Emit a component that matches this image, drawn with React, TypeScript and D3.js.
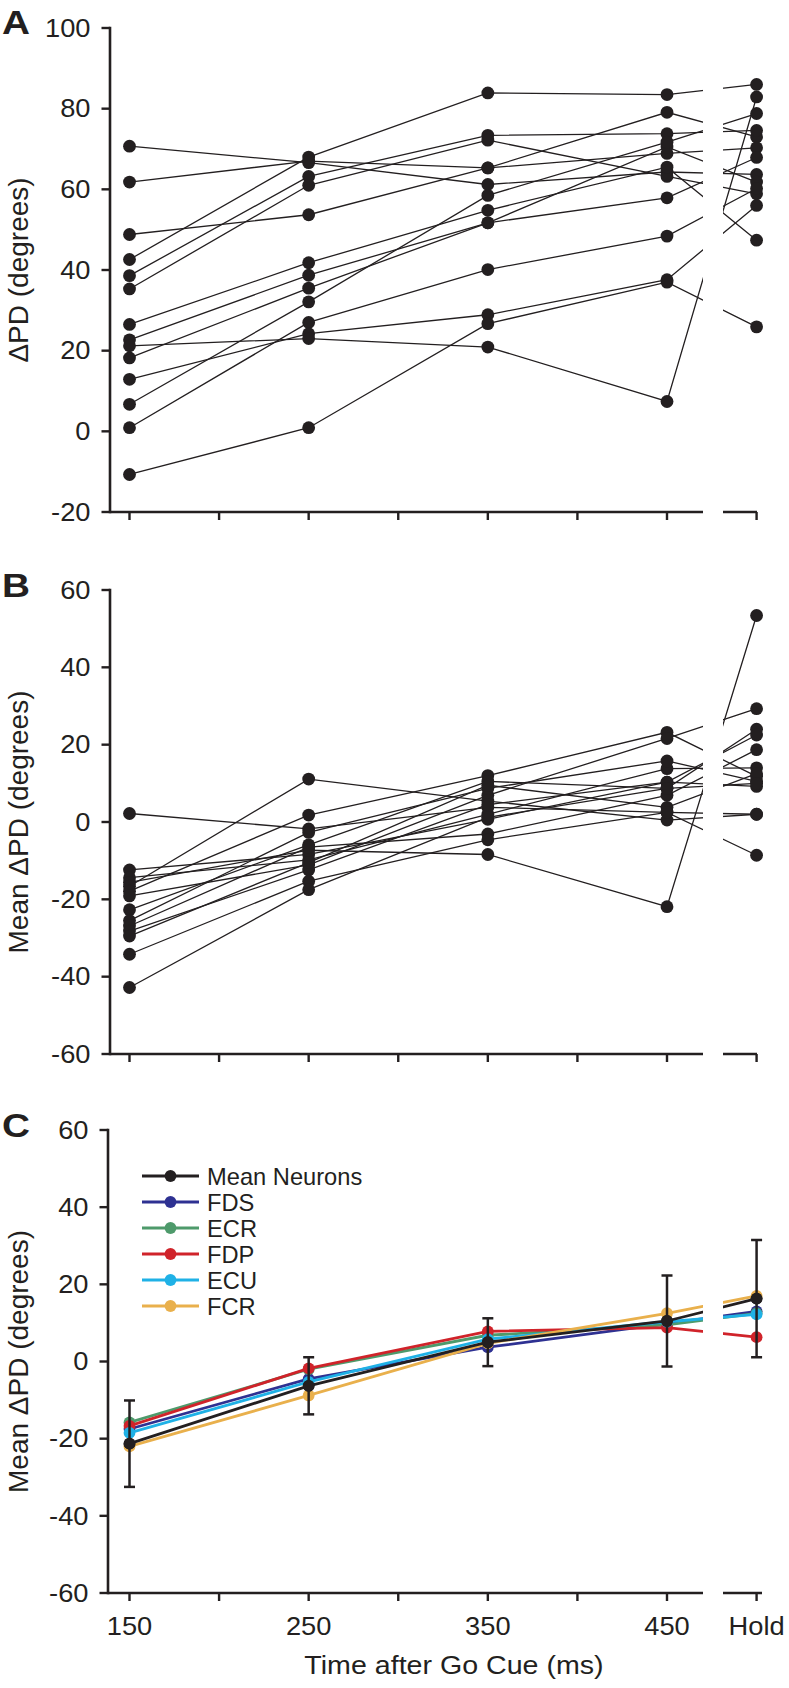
import React from "react";
import * as d3 from "d3";

// ---------- data ----------
const timeLabels = ["150", "250", "350", "450", "Hold"];
const timeValues = [150, 250, 350, 450, 500];
const tickValues = [150, 200, 250, 300, 350, 400, 450, 500];

const yTicksA = [-20, 0, 20, 40, 60, 80, 100];
const yTicksBC = [-60, -40, -20, 0, 20, 40, 60];

// Panel A: ΔPD per neuron at 150, 250, 350, 450 ms and Hold
const neuronsA: number[][] = [
  [42.6, 68.0, 83.9, 83.5, 86.0],
  [70.7, 66.6, 61.2, 64.3, 63.7],
  [61.8, 67.0, 65.3, 79.1, 73.0],
  [38.6, 63.2, 73.4, 73.8, 74.6],
  [35.3, 61.0, 72.2, 63.2, 58.9],
  [48.8, 53.7, 65.3, 68.9, 70.3],
  [26.5, 41.8, 54.8, 65.5, 47.4],
  [22.7, 38.7, 51.7, 70.5, 61.8],
  [18.2, 35.5, 51.7, 57.9, 67.9],
  [6.7, 32.1, 58.5, 71.7, 78.8],
  [0.9, 27.0, 40.1, 48.4, 60.2],
  [12.9, 24.2, 28.9, 37.6, 56.0],
  [21.2, 23.0, 20.9, 7.4, 82.9],
  [-10.7, 0.9, 26.7, 37.0, 25.9],
];

// Panel B: mean ΔPD
const neuronsB: number[][] = [
  [2.2, -1.8, 3.8, 2.5, 2.0],
  [-12.4, -8.4, 0.7, 10.3, 9.2],
  [-14.4, -9.8, 2.0, 13.8, 14.0],
  [-15.6, -7.3, -8.4, -21.9, 53.4],
  [-16.6, 11.1, 5.4, 0.5, 2.0],
  [-17.9, 1.8, 12.0, 23.2, 11.8],
  [-19.1, -11.1, 6.9, 21.6, 29.3],
  [-22.7, -5.9, 10.5, 8.7, 24.0],
  [-25.5, -2.7, 8.7, 15.8, 10.5],
  [-26.9, -6.5, -3.1, 6.9, 18.7],
  [-28.2, -12.4, 4.5, 10.3, 22.5],
  [-29.5, -10.5, 9.5, 3.8, 12.5],
  [-34.2, -15.3, -4.6, 2.5, -8.6],
  [-42.8, -17.5, 1.2, 8.7, 10.0],
];

// Panel C
const seriesNames = ["Mean Neurons", "FDS", "ECR", "FDP", "ECU", "FCR"];
const seriesColors = ["#231f20", "#2e3192", "#4e9a6b", "#d0232a", "#1fb1e6", "#e9b04c"];
const meanNeurons = [-21.3, -6.3, 5.0, 10.5, 16.3];
const meanNeuronsErr = [11.2, 7.4, 6.2, 11.8, 15.2];
const fds = [-17.5, -4.5, 3.7, 9.8, 13.0];
const ecr = [-15.8, -2.0, 6.8, 9.5, 12.5];
const fdp = [-16.7, -1.8, 7.8, 8.8, 6.3];
const ecu = [-18.5, -5.3, 5.8, 10.3, 12.2];
const fcr = [-22.0, -8.8, 4.7, 12.5, 17.0];
const muscleSeries = [fds, ecr, fdp, ecu, fcr];

// ---------- layout ----------
const W = 789;
const H = 1688;
const INK = "#231f20";
const FONT = "'Liberation Sans', Arial, Helvetica, sans-serif";
const TICK_SIZE = 25.5;
const TICK_SX = 1.07;

const x = d3.scaleLinear().domain([150, 450]).range([129.5, 667]);
const BREAK_L = 703;
const BREAK_R = 723;

type PanelProps = {
  id: string;
  letter: string;
  letterY: number;
  yDomain: [number, number];
  yRange: [number, number];
  yTicks: number[];
  axisX: number;
  axisEnd: number;
  title: string;
  children: (y: d3.ScaleLinear<number, number>) => React.ReactNode;
};

function HText(props: {
  x: number;
  y: number;
  size?: number;
  anchor?: string;
  sx?: number;
  weight?: string | number;
  children: React.ReactNode;
}) {
  const { size = TICK_SIZE, anchor = "middle", sx = TICK_SX, weight = "normal" } = props;
  return (
    <text
      transform={`translate(${props.x},${props.y}) scale(${sx},1)`}
      fontSize={size}
      textAnchor={anchor as any}
      fontWeight={weight}
      fill={INK}
      fontFamily={FONT}
    >
      {props.children}
    </text>
  );
}

function Panel(p: PanelProps) {
  const y = d3.scaleLinear().domain(p.yDomain).range(p.yRange);
  const y0 = p.yRange[0];
  const y1 = p.yRange[1];
  return (
    <g>
      <defs>
        <clipPath id={`clip-${p.id}`}>
          <rect x={0} y={0} width={BREAK_L} height={H} />
          <rect x={BREAK_R} y={0} width={W - BREAK_R} height={H} />
        </clipPath>
      </defs>
      {/* panel letter */}
      <HText x={2} y={p.letterY} size={34} anchor="start" sx={1.14} weight="bold">
        {p.letter}
      </HText>
      {/* y axis */}
      <line x1={p.axisX} x2={p.axisX} y1={y1} y2={y0} stroke={INK} strokeWidth={2.6} strokeLinecap="square" />
      {p.yTicks.map((t) => (
        <g key={t}>
          <line x1={p.axisX - 8.5} x2={p.axisX} y1={y(t)} y2={y(t)} stroke={INK} strokeWidth={2.4} />
          <HText x={p.axisX - 19.5} y={y(t) + 8.8} anchor="end">
            {String(t)}
          </HText>
        </g>
      ))}
      {/* y title */}
      <text
        transform={`translate(28,${(y0 + y1) / 2}) rotate(-90)`}
        fontSize={28}
        textAnchor="middle"
        fill={INK}
        fontFamily={FONT}
      >
        {p.title}
      </text>
      {/* x axis (broken) */}
      <line x1={p.axisX} x2={BREAK_L} y1={y0} y2={y0} stroke={INK} strokeWidth={2.6} />
      <line x1={BREAK_R} x2={p.axisEnd} y1={y0} y2={y0} stroke={INK} strokeWidth={2.6} />
      {tickValues.map((t) => (
        <line key={t} x1={x(t)} x2={x(t)} y1={y0} y2={y0 + 8} stroke={INK} strokeWidth={2.4} />
      ))}
      <g clipPath={`url(#clip-${p.id})`}>{p.children(y)}</g>
    </g>
  );
}

function NeuronLines({ data, y }: { data: number[][]; y: d3.ScaleLinear<number, number> }) {
  const line = d3
    .line<number>()
    .x((_, i) => x(timeValues[i]))
    .y((d) => y(d));
  return (
    <g>
      {data.map((row, k) => (
        <path key={`l${k}`} d={line(row) || ""} fill="none" stroke={INK} strokeWidth={1.3} />
      ))}
      {data.map((row, k) =>
        row.map((v, i) => <circle key={`c${k}-${i}`} cx={x(timeValues[i])} cy={y(v)} r={6.4} fill={INK} />)
      )}
    </g>
  );
}

function MuscleLines({ y }: { y: d3.ScaleLinear<number, number> }) {
  const line = d3
    .line<number>()
    .x((_, i) => x(timeValues[i]))
    .y((d) => y(d));
  const all = [...muscleSeries.map((s, i) => ({ s, c: seriesColors[i + 1] })), { s: meanNeurons, c: seriesColors[0] }];
  return (
    <g>
      {all.map(({ s, c }, k) => (
        <g key={k}>
          <path d={line(s) || ""} fill="none" stroke={c} strokeWidth={2.8} />
          {s.map((v, i) => (
            <circle key={i} cx={x(timeValues[i])} cy={y(v)} r={5.9} fill={c} />
          ))}
        </g>
      ))}
      {meanNeurons.map((m, i) => {
        const cx = x(timeValues[i]);
        const top = y(m + meanNeuronsErr[i]);
        const bot = y(m - meanNeuronsErr[i]);
        return (
          <g key={`e${i}`} stroke={INK} strokeWidth={2.5}>
            <line x1={cx} x2={cx} y1={top} y2={bot} />
            <line x1={cx - 5.5} x2={cx + 5.5} y1={top} y2={top} />
            <line x1={cx - 5.5} x2={cx + 5.5} y1={bot} y2={bot} />
          </g>
        );
      })}
      {meanNeurons.map((v, i) => (
        <circle key={`m${i}`} cx={x(timeValues[i])} cy={y(v)} r={5.9} fill={INK} />
      ))}
    </g>
  );
}

export default function App() {
  const cBottom = 1593;
  const legendRows = seriesNames.map((n, i) => ({ n, c: seriesColors[i], yy: 1176 + i * 26 }));
  return (
    <div style={{ position: "absolute", left: 0, top: 0 }}>
      <svg width={W} height={H} style={{ display: "block", background: "#fff" }}>
        <rect x={0} y={0} width={W} height={H} fill="#fff" />
        <Panel
          id="A"
          letter="A"
          letterY={33.5}
          yDomain={[-20, 100]}
          yRange={[512, 28]}
          yTicks={yTicksA}
          axisX={110}
          axisEnd={757}
          title="ΔPD (degrees)"
        >
          {(y) => <NeuronLines data={neuronsA} y={y} />}
        </Panel>
        <Panel
          id="B"
          letter="B"
          letterY={597}
          yDomain={[-60, 60]}
          yRange={[1054, 590]}
          yTicks={yTicksBC}
          axisX={110}
          axisEnd={757}
          title="Mean ΔPD (degrees)"
        >
          {(y) => <NeuronLines data={neuronsB} y={y} />}
        </Panel>
        <Panel
          id="C"
          letter="C"
          letterY={1137}
          yDomain={[-60, 60]}
          yRange={[cBottom, 1130]}
          yTicks={yTicksBC}
          axisX={108}
          axisEnd={762}
          title="Mean ΔPD (degrees)"
        >
          {(y) => <MuscleLines y={y} />}
        </Panel>
        {/* legend */}
        {legendRows.map(({ n, c, yy }) => (
          <g key={n}>
            <line x1={142} x2={199} y1={yy} y2={yy} stroke={c} strokeWidth={2.8} />
            <circle cx={170.5} cy={yy} r={5.9} fill={c} />
            <HText x={207} y={yy + 8.5} anchor="start" size={23} sx={1.03}>
              {n}
            </HText>
          </g>
        ))}
        {/* x tick labels of C */}
        {timeLabels.map((lab, i) => (
          <HText key={lab} x={x(timeValues[i])} y={1635}>
            {lab}
          </HText>
        ))}
        <HText x={454} y={1674} size={26} sx={1.1}>
          Time after Go Cue (ms)
        </HText>
      </svg>
    </div>
  );
}
